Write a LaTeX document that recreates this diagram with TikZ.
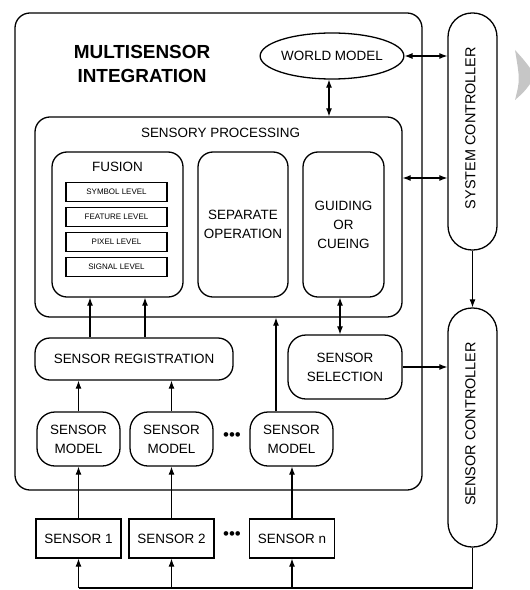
\documentclass[tikz,border=0pt]{standalone}
\usepackage{fontspec}
\setmainfont{Liberation Sans}
\usetikzlibrary{arrows.meta,shapes.geometric,calc}
\begin{document}
\begin{tikzpicture}[x=1bp,y=-1bp,
  every node/.style={font=\fontsize{13.5}{19}\selectfont, align=center, inner sep=0pt},
  box/.style={draw, line width=1.3pt, rounded corners=#1},
  box/.default=15bp,
  lvl/.style={draw, line width=1.4pt, minimum width=101bp, minimum height=19bp, font=\fontsize{8}{8}\selectfont},
  sensorbox/.style={draw, line width=1.3pt, minimum width=85bp, minimum height=39bp},
  modelbox/.style={box=18bp, minimum width=83bp, minimum height=54bp},
  rotlabel/.style={rotate=90, font=\fontsize{14.5}{14.5}\selectfont},
  dotsnode/.style={font=\fontsize{17}{17}\selectfont},
  arr/.style={-{Latex[length=8bp,width=6bp]}, line width=1.1pt},
  dbl/.style={{Latex[length=8bp,width=6bp]}-{Latex[length=8bp,width=6bp]}, line width=1.1pt},
  plain/.style={line width=1.1pt}
]
\useasboundingbox (0,0) rectangle (530,590);

% gray chevron fragment at the right edge
\fill[gray!45] (515,50) .. controls (524,60) .. (530,68) -- (530,84) .. controls (524,92) .. (515,100) .. controls (520,80) .. (515,50);

% outer container
\node[box, minimum width=407bp, minimum height=477bp] (outer) at (218.5,251.5) {};
\node[font=\bfseries\fontsize{19}{24}\selectfont] (title) at (142,64) {MULTISENSOR\\INTEGRATION};

% world model
\node[draw, ellipse, line width=1.3pt, minimum width=140bp, minimum height=46bp] (world) at (332,56) {WORLD MODEL};

% sensory processing
\node[box, minimum width=367bp, minimum height=200bp] (proc) at (218.5,217) {};
\node (proclabel) at (220.5,133) {SENSORY PROCESSING};

% fusion
\node[box, minimum width=131bp, minimum height=145bp] (fusion) at (117.5,224.5) {};
\node (fusionlabel) at (117.5,167) {FUSION};
\node[lvl] (sym) at (116.5,192) {SYMBOL LEVEL};
\node[lvl] (feat) at (116.5,217) {FEATURE LEVEL};
\node[lvl] (pix) at (116.5,242) {PIXEL LEVEL};
\node[lvl] (sig) at (116.5,267) {SIGNAL LEVEL};

% separate operation, guiding
\node[box, minimum width=90bp, minimum height=145bp] (sep) at (243,224.5) {SEPARATE\\OPERATION};
\node[box, minimum width=81bp, minimum height=145bp] (guide) at (343.5,224.5) {GUIDING\\OR\\CUEING};

% controllers
\node[box=24bp, minimum width=49bp, minimum height=237bp] (sys) at (472.5,131.5) {};
\node[rotlabel] (syslabel) at (470.5,128) {SYSTEM CONTROLLER};
\node[box=24bp, minimum width=49bp, minimum height=239bp] (sctrl) at (472.5,427.5) {};
\node[rotlabel] (sctrllabel) at (470.5,424) {SENSOR CONTROLLER};

% registration and selection
\node[box, minimum width=198bp, minimum height=42bp] (reg) at (134,359) {SENSOR REGISTRATION};
\node[box=18bp, minimum width=114bp, minimum height=64bp] (sel) at (345,367) {SENSOR\\SELECTION};

% sensor models
\node[modelbox] (m1) at (78.5,439) {SENSOR\\MODEL};
\node[modelbox] (m2) at (171.5,439) {SENSOR\\MODEL};
\node[modelbox] (mn) at (291.5,439) {SENSOR\\MODEL};
\node[dotsnode] (mdots) at (232,437) {•••};

% sensors
\node[sensorbox] (s1) at (78.5,538.5) {SENSOR 1};
\node[sensorbox] (s2) at (171.5,538.5) {SENSOR 2};
\node[sensorbox] (sn) at (292,538.5) {SENSOR n};
\node[dotsnode] (sdots) at (232,536) {•••};

% connectors
\draw[dbl] (world.east) -- (world.east -| sys.west);
\draw[dbl] ([xshift=-3bp]world.south) -- ([xshift=-3bp]world.south |- proc.north);
\draw[dbl] ([yshift=39bp]proc.east) -- ([yshift=39bp]proc.east -| sys.west);
\draw[arr] (sys.south) -- (sctrl.north);
\draw[dbl] ([xshift=-3.5bp]guide.south) -- ([xshift=-3.5bp]guide.south |- sel.north);
\draw[arr] (sel.east) -- (sel.east -| sctrl.west);
\draw[arr] ([xshift=-27.5bp]fusion.south |- reg.north) -- ([xshift=-27.5bp]fusion.south);
\draw[arr] ([xshift=27.5bp]fusion.south |- reg.north) -- ([xshift=27.5bp]fusion.south);
\draw[arr] (m1.north) -- (m1.north |- reg.south);
\draw[arr] (m2.north) -- (m2.north |- reg.south);
\draw[arr] ([xshift=-15.5bp]mn.north) -- ([xshift=-15.5bp]mn.north |- proc.south);
\draw[arr] (s1.north) -- (m1.south);
\draw[arr] (s2.north) -- (m2.south);
\draw[arr] (sn.north) -- (sn.north |- mn.south);

\coordinate (fb) at (78.5,588);
\draw[plain] (sctrl.south) |- (fb);
\draw[arr] (s1.south |- fb) -- (s1.south);
\draw[arr] (s2.south |- fb) -- (s2.south);
\draw[arr] (sn.south |- fb) -- (sn.south);
\end{tikzpicture}
\end{document}
